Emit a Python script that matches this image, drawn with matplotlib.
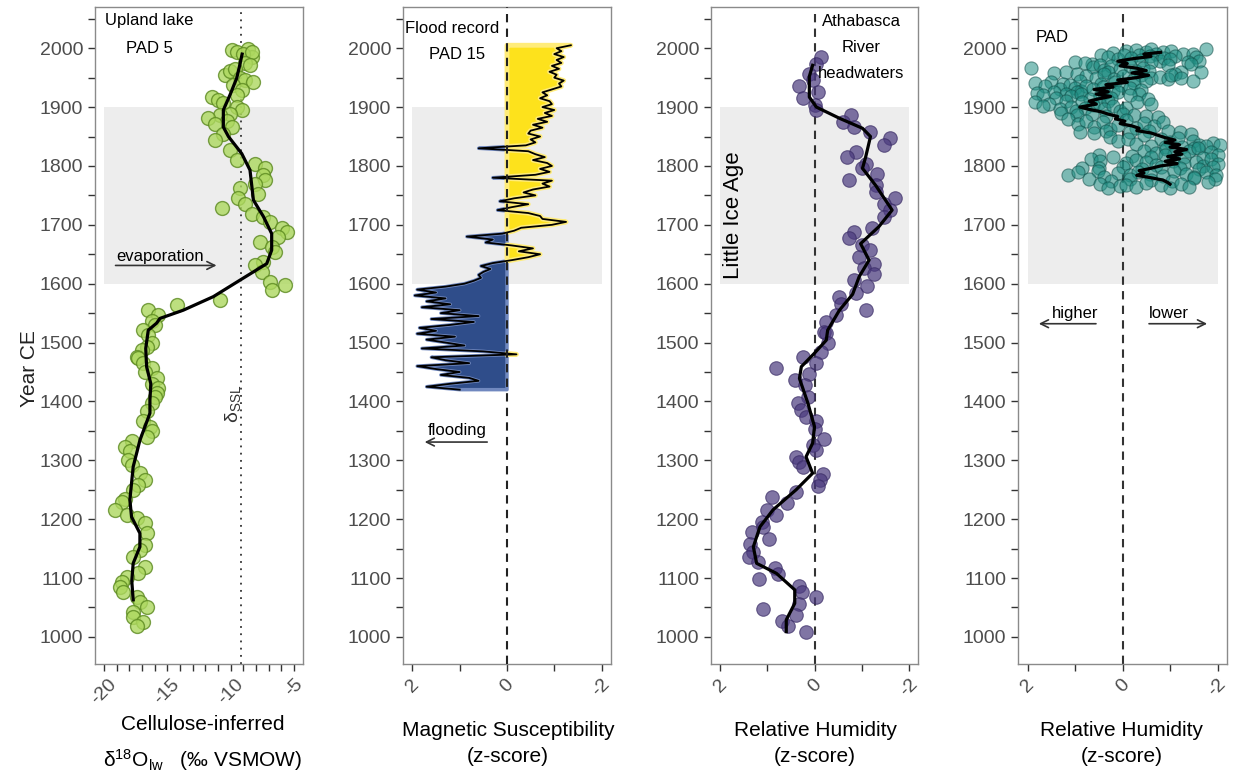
import numpy as np
import matplotlib
matplotlib.use('Agg')
import matplotlib.pyplot as plt
from matplotlib.patches import Rectangle
from matplotlib.ticker import MultipleLocator, FixedLocator

plt.rcParams['font.family'] = ['Liberation Sans', 'DejaVu Sans']
plt.rcParams['mathtext.fontset'] = 'custom'
plt.rcParams['mathtext.rm'] = 'Liberation Sans'
plt.rcParams['mathtext.it'] = 'Liberation Sans:italic'

# ---- panel 1: upland lake PAD 5, cellulose-inferred d18O lake water
p1_year = [1997, 1994, 1999, 1985, 1991, 1993, 1975, 1971, 1954, 1961, 1964, 1950,
           1946, 1943, 1937, 1929, 1920, 1917, 1912, 1907, 1900, 1895, 1889, 1886,
           1881, 1876, 1872, 1866, 1855, 1844,
           1827, 1810, 1804, 1796, 1784, 1776, 1770, 1762, 1753, 1745, 1736, 1728,
           1719, 1714, 1705, 1694, 1688, 1680, 1671, 1663, 1654, 1637, 1632, 1620,
           1603, 1598, 1589, 1572, 1564, 1555, 1547,
           1537, 1530, 1521, 1512, 1499, 1492, 1487, 1476, 1473, 1465, 1456, 1450,
           1439, 1430, 1422, 1415, 1408, 1397, 1383, 1366, 1357, 1349, 1340, 1332,
           1323, 1315, 1300, 1292, 1278, 1267, 1258, 1250, 1235, 1230, 1216, 1207,
           1202, 1193, 1176, 1156, 1148, 1136, 1119, 1108, 1102, 1094, 1085, 1077,
           1068, 1060, 1051, 1043, 1034, 1026, 1018]
p1_d18o = [-9.92, -9.53, -8.61, -8.34, -9.0, -8.3, -8.9, -8.48, -10.45, -10.05, -9.66, -9.3,
           -8.87, -8.21, -9.79, -9.13, -9.53, -11.5, -10.98, -10.58, -9.53, -9.13, -10.05, -10.84,
           -11.76, -10.3, -11.24, -9.92, -10.58, -11.24,
           -10.05, -9.53, -8.08, -7.29, -7.42, -7.29, -8.08, -9.27, -7.82, -9.4, -8.87, -10.71,
           -8.34, -7.42, -6.9, -5.98, -5.58, -6.24, -7.69, -6.77, -6.5, -7.42, -8.08, -7.55,
           -6.9, -5.71, -6.77, -10.84, -14.26, -16.5, -15.71,
           -16.2, -15.97, -16.9, -16.5, -16.24, -16.6, -17.02, -17.42, -17.29, -16.9, -16.24, -16.76,
           -15.84, -16.2, -15.71, -15.8, -15.97, -16.24, -16.63, -16.9, -16.37, -16.24, -16.63, -17.82,
           -18.34, -17.95, -18.08, -17.82, -17.16, -16.76, -17.29, -17.69, -18.34, -18.6, -19.13, -18.21,
           -17.42, -16.76, -16.63, -16.76, -17.16, -17.69, -16.76, -17.29, -18.21, -18.6, -18.74, -18.47,
           -17.42, -17.16, -16.63, -17.69, -17.69, -16.9, -17.42]
p1_line_year = [1990, 1970, 1949, 1921, 1895, 1866, 1850, 1821, 1793, 1742, 1714, 1685,
                1657, 1634, 1606, 1578, 1555, 1541, 1533, 1521, 1490, 1459, 1430, 1402,
                1380, 1334, 1289, 1233, 1204, 1176, 1153, 1125, 1095, 1063]
p1_line_val = [-9.1, -9.3, -9.53, -10.05, -10.58, -10.58, -10.18, -9.13, -8.48, -8.21, -7.42, -6.77,
               -6.77, -7.16, -9.27, -11.37, -13.74, -15.58, -15.84, -16.5, -16.7, -16.63, -16.3, -16.37,
               -16.37, -17.16, -17.69, -17.95, -17.82, -17.16, -17.16, -17.69, -17.8, -17.69]
d_ssl = -9.2

# ---- panel 2: flood record PAD 15, magnetic susceptibility z-score (5-yr steps)
ms_year = list(range(1420, 2006, 5))
ms_z = [1.0, 1.7, 1.2, 0.6, 0.8, 1.4, 1.0, 1.5, 1.9, 0.8,
        1.3, 1.6, -0.2, 0.5, 1.8, 0.9, 1.3, 1.7, 1.1, 1.9,
        1.5, 1.85, 1.2, 0.7, 1.6, 0.6, 1.4, 1.0, 1.8, 1.2,
        1.7, 1.3, 1.95, 1.5, 1.9, 1.3, 0.9, 0.7, 0.55, 0.6,
        0.5, 0.35, 0.55, 0.3, -0.1, -0.45, -0.7, -0.25, -0.55, -0.1,
        0.45, 0.3, 0.85, 0.1, -0.15, -0.3, -0.95, -1.25, -0.75, -0.7,
        -0.45, 0.2, -0.1, -0.45, 0.15, -0.15, -0.6, -0.35, -0.55, -0.9,
        -0.75, -0.95, 0.3, -0.6, -0.9, -0.7, -0.95, -0.85, -0.55, -0.8,
        -0.6, -0.45, 0.6, -0.4, -0.6, -0.5, -0.7, -0.45, -0.5, -0.75,
        -0.55, -0.85, -0.65, -0.95, -0.8, -1.0, -0.75, -0.95, -0.9, -0.7,
        -0.85, -0.75, -0.95, -1.15, -1.1, -1.2, -1.0, -1.05, -0.9, -1.1,
        -0.95, -1.15, -1.05, -1.2, -1.0, -1.15, -1.05, -1.35]

# ---- panel 3: Athabasca River headwaters relative humidity z-score
p3_year = [1985, 1974, 1957, 1946, 1935, 1926, 1916, 1903, 1895, 1886, 1875, 1866,
           1858, 1847, 1835, 1824, 1816, 1804, 1796, 1787, 1776, 1767, 1756, 1745,
           1736, 1725, 1714, 1694, 1688, 1677, 1666, 1657, 1646, 1634, 1626, 1617,
           1606, 1596, 1584, 1578, 1566, 1555, 1547, 1535, 1518, 1516, 1499, 1484,
           1476, 1466, 1456, 1446, 1436, 1428, 1408, 1397, 1385, 1374, 1366, 1354,
           1337, 1326, 1317, 1306, 1297, 1289, 1277, 1267, 1256, 1247, 1237, 1227,
           1216, 1207, 1196, 1187, 1178, 1166, 1157, 1145, 1136, 1127, 1117, 1107,
           1098, 1087, 1077, 1068, 1056, 1048, 1037, 1027, 1018, 1008]
p3_rh = [-0.14, -0.04, 0.11, 0.04, 0.32, -0.07, 0.25, 0.0, -0.04, -0.77, -0.6, -0.84,
         -1.19, -1.61, -1.47, -0.88, -0.7, -1.09, -1.02, -1.33, -0.74, -1.3, -1.3, -1.72,
         -1.47, -1.61, -1.47, -1.23, -0.84, -0.74, -1.02, -1.19, -0.95, -1.26, -1.05, -1.26,
         -0.84, -1.12, -0.88, -0.53, -0.56, -1.09, -0.46, -0.25, -0.21, -0.25, -0.28, -0.14,
         0.25, -0.04, 0.82, 0.12, 0.42, 0.21, 0.14, 0.35, 0.28, 0.18, -0.04, 0.0,
         -0.21, 0.04, -0.04, 0.39, 0.32, 0.25, -0.18, -0.11, -0.07, 0.39, 0.91, 0.58,
         1.02, 0.82, 1.12, 1.09, 1.32, 0.96, 1.37, 1.3, 1.39, 1.21, 0.84, 0.77,
         1.19, 0.32, 0.27, -0.04, 0.32, 1.09, 0.4, 0.7, 0.56, 0.18]
p3_line_year = [1971, 1952, 1917, 1900, 1881, 1864, 1850, 1816, 1796, 1767, 1725, 1697,
                1668, 1640, 1612, 1582, 1555, 1521, 1504, 1482, 1459, 1439, 1397, 1357,
                1329, 1306, 1278, 1250, 1216, 1187, 1153, 1125, 1108, 1080, 1057, 1029, 1009]
p3_line_val = [0.04, 0.11, 0.11, -0.04, -0.53, -1.02, -1.19, -1.09, -1.02, -1.3, -1.65, -1.37,
               -0.98, -1.16, -0.95, -0.81, -0.53, -0.28, -0.25, 0.0, 0.28, 0.32, 0.14, 0.0,
               0.04, 0.18, 0.04, 0.39, 0.88, 1.16, 1.3, 1.23, 0.81, 0.42, 0.42, 0.6, 0.6]

# ---- panel 4: PAD relative humidity z-score
p4_year = [1995, 1997, 1993, 1998, 1994, 1996, 1990, 1991, 1998,
           1989, 1992, 1988, 1990, 1987, 1985,
           1985, 1982, 1988, 1983, 1980, 1986, 1978, 1984, 1981, 1976,
           1977, 1974, 1976, 1971, 1979,
           1966, 1975, 1968, 1972, 1963, 1970, 1965, 1969, 1962, 1967, 1960, 1973,
           1958, 1960, 1957, 1959, 1961, 1957, 1959,
           1953, 1950, 1956, 1948, 1952, 1946, 1955, 1949, 1951, 1947, 1954, 1950, 1945,
           1941, 1943, 1940, 1944, 1939, 1942, 1941, 1944,
           1935, 1930, 1937, 1932, 1928, 1936, 1931, 1934, 1927, 1938, 1933, 1929,
           1924, 1926, 1923, 1925, 1924, 1926, 1922,
           1920, 1915, 1918, 1922, 1913, 1919, 1916, 1921, 1914,
           1908, 1906, 1910, 1909, 1907, 1911, 1909, 1906,
           1902, 1897, 1900, 1894, 1899, 1904, 1896, 1901, 1893, 1898,
           1890, 1887, 1889, 1885, 1888, 1886, 1884, 1883,
           1880, 1872, 1876, 1867, 1874, 1862, 1870, 1878, 1865, 1873, 1868, 1875,
           1858, 1856, 1860, 1857, 1859, 1860, 1857, 1855,
           1850, 1842, 1846, 1838, 1852, 1845, 1840, 1848, 1843, 1836, 1839,
           1834, 1832, 1833, 1831, 1834, 1835,
           1826, 1822, 1828, 1820, 1825, 1830, 1823,
           1818, 1816, 1817, 1815, 1818, 1816, 1814, 1819,
           1812, 1808, 1805, 1810, 1806, 1802, 1809, 1804, 1807, 1800, 1811, 1803,
           1797, 1796, 1798, 1795, 1799, 1797, 1794, 1798,
           1785, 1789, 1792, 1782, 1788, 1784, 1790, 1786, 1783, 1791, 1787, 1781, 1789, 1785,
           1777, 1775, 1778, 1776, 1774, 1779, 1777,
           1770, 1762, 1766, 1768, 1764, 1771, 1767, 1763, 1769, 1765, 1772]
p4_rh = [-0.07, -0.28, -0.5, -0.6, -0.85, -1.02, -1.27, -1.48, -1.76,
         0.45, 0.2, -0.35, -0.7, -1.1, -1.55,
         0.31, 0.1, -0.04, -0.18, -0.39, -0.57, -0.78, -0.88, -0.99, -1.37,
         1.0, 0.65, -0.6, -0.95, -1.6,
         1.92, 0.8, 0.62, 0.48, 0.38, 0.24, 0.06, -0.15, -0.29, -0.43, -1.23, -1.44,
         1.45, 1.2, 0.95, 0.3, -0.55, -1.1, -1.65,
         0.76, 0.55, 0.38, 0.17, -0.01, -0.22, -0.39, -0.6, -0.78, -0.95, -1.02, -1.23, -1.48,
         1.85, 1.5, 1.25, 0.9, 0.45, 0.15, -0.25, -0.5,
         1.64, 1.32, 1.11, 1.0, 0.87, 0.76, 0.62, 0.41, 0.2, 0.03, -0.15, -0.39,
         1.8, 1.45, 1.2, 0.95, 0.4, 0.1, -0.35,
         1.67, 1.39, 1.08, 0.87, 0.69, 0.48, 0.24, -0.15, -0.53,
         1.85, 1.55, 1.2, 0.85, 0.5, 0.3, -0.3, -0.6,
         1.67, 1.32, 1.08, 0.97, 0.8, 0.62, 0.38, 0.2, 0.06, -0.08,
         1.3, 0.95, 0.65, 0.35, 0.0, -0.25, -0.5, -0.75,
         1.15, 0.94, 0.76, 0.59, 0.41, 0.27, 0.1, -0.08, -0.29, -0.46, -0.67, -0.85,
         0.9, 0.6, 0.35, -0.15, -0.55, -0.95, -1.2, -1.45,
         0.27, 0.1, -0.11, -0.29, -0.46, -0.81, -0.99, -1.16, -1.48, -1.62, -1.9,
         -0.6, -0.9, -1.25, -1.5, -1.75, -2.05,
         -0.46, -0.71, -0.92, -1.09, -1.41, -1.58, -1.86,
         0.5, 0.2, -0.2, -0.6, -0.9, -1.3, -1.7, -2.0,
         0.66, 0.48, -0.08, -0.29, -0.5, -0.71, -1.06, -1.3, -1.55, -1.69, -1.86, -2.0,
         0.85, 0.5, 0.0, -0.4, -0.8, -1.2, -1.6, -1.9,
         1.15, 0.94, 0.52, 0.38, 0.1, -0.15, -0.32, -0.57, -0.85, -1.09, -1.34, -1.51, -1.76, -1.97,
         0.7, 0.25, -0.15, -0.6, -1.05, -1.5, -1.95,
         0.48, 0.31, 0.06, -0.08, -0.29, -0.5, -0.81, -0.99, -1.23, -1.41, -1.79]
p4_line_year = [1993, 1990, 1986, 1982, 1978, 1974, 1970, 1966, 1962, 1958, 1954, 1950,
                1946, 1942, 1938, 1934, 1930, 1926, 1922, 1918, 1914, 1910, 1905, 1900,
                1896, 1892, 1888, 1884, 1880, 1876, 1872, 1868, 1864, 1860, 1856, 1852,
                1848, 1844, 1840, 1836, 1832, 1828, 1824, 1820, 1816, 1812, 1808, 1804,
                1800, 1796, 1792, 1788, 1784, 1780, 1776, 1772, 1769]
p4_line_val = [-0.8, -0.45, -0.6, -0.2, 0.1, -0.1, 0.05, -0.3, -0.5, -0.2, -0.55, -0.3,
               0.1, -0.1, 0.35, 0.2, 0.6, 0.3, 0.55, 0.25, 0.5, 0.7, 0.55, 0.9,
               0.7, 0.45, 0.3, 0.1, 0.15, -0.05, 0.05, -0.2, -0.35, -0.3, -0.6, -0.75,
               -0.9, -1.1, -0.9, -1.2, -1.0, -1.35, -1.1, -1.25, -0.95, -1.2, -0.9, -1.15,
               -0.8, -0.6, -0.35, -0.45, -0.3, -0.6, -0.85, -0.95, -1.0]

W, H = 1233, 774
fig = plt.figure(figsize=(W / 100, H / 100), dpi=100)


def px_axes(left, top, right, bottom):
    return fig.add_axes([left / W, 1 - bottom / H, (right - left) / W, (bottom - top) / H])


tick_col = '#4D4D4D'
axs = [px_axes(95, 7, 303, 664), px_axes(403, 7, 611, 664),
       px_axes(711, 7, 918, 664), px_axes(1018, 7, 1227, 664)]

for ax in axs:
    ax.set_ylim(954, 2070)
    ax.yaxis.set_major_locator(MultipleLocator(100))
    ax.yaxis.set_minor_locator(MultipleLocator(50))
    ax.tick_params(which='both', length=5, width=1, color='#333333',
                   labelcolor=tick_col, labelsize=14)
    for s in ax.spines.values():
        s.set_color('#8A8A8A')
        s.set_linewidth(1)

# panel 1
ax = axs[0]
ax.set_xlim(-20.7, -4.3)
ax.add_patch(Rectangle((-20, 1600), 15, 300, color='#EDEDED', lw=0, zorder=0))
ax.axvline(d_ssl, color='#333333', ls=(0, (1, 3)), lw=1.3, zorder=1)
ax.scatter(p1_d18o, p1_year, s=100, facecolor='#ADD85F', edgecolor='#5C8A20',
           alpha=0.8, lw=1, zorder=2)
ax.plot(p1_line_val, p1_line_year, color='black', lw=2.3, zorder=3)
ax.xaxis.set_major_locator(FixedLocator([-20, -15, -10, -5]))
ax.xaxis.set_minor_locator(MultipleLocator(1))
ax.set_xticklabels(['-20', '-15', '-10', '-5'], rotation=45, ha='center', va='top')
ax.text(-16.4, 2047, 'Upland lake', ha='center', va='center', fontsize=12)
ax.text(-16.4, 2000, 'PAD 5', ha='center', va='center', fontsize=12)
ax.text(-15.6, 1646, 'evaporation', ha='center', va='center', fontsize=12)
ax.annotate('', xy=(-10.9, 1631), xytext=(-19.3, 1631),
            arrowprops=dict(arrowstyle='->', lw=1.2, color='#333333', mutation_scale=14))
ax.text(-9.8, 1396, r'$\mathrm{\delta}_{\mathrm{SSL}}$', rotation=90, ha='center', va='center',
        fontsize=14, color='#333333')
ax.set_ylabel('Year CE', fontsize=15, color='#222222')
ax.yaxis.set_label_coords(-0.27, 0.45)

# panel 2
ax = axs[1]
ax.set_xlim(2.2, -2.2)
ax.add_patch(Rectangle((-2, 1600), 4, 300, color='#EDEDED', lw=0, zorder=0))
ms_y = np.array(ms_year)
ms_v = np.array(ms_z)
ax.fill_betweenx(ms_y, 0, ms_v, where=ms_v >= 0, interpolate=True,
                 facecolor='#2F4D8A', edgecolor='#7088BF', lw=2.5, zorder=1)
ax.fill_betweenx(ms_y, 0, ms_v, where=ms_v <= 0, interpolate=True,
                 facecolor='#FDE21C', edgecolor='#FFEC7A', lw=3.5, zorder=1)
ax.plot(ms_v, ms_y, color='black', lw=1.3, zorder=2)
ax.axvline(0, color='#222222', ls=(0, (4, 3)), lw=1.5, zorder=3)
ax.text(1.16, 2034, 'Flood record', ha='center', va='center', fontsize=12)
ax.text(1.05, 1989, 'PAD 15', ha='center', va='center', fontsize=12)
ax.text(1.05, 1350, 'flooding', ha='center', va='center', fontsize=12)
ax.annotate('', xy=(1.8, 1331), xytext=(0.36, 1331),
            arrowprops=dict(arrowstyle='->', lw=1.2, color='#333333', mutation_scale=14))

# panel 3
ax = axs[2]
ax.set_xlim(2.2, -2.2)
ax.add_patch(Rectangle((-2, 1600), 4, 300, color='#EDEDED', lw=0, zorder=0))
ax.axvline(0, color='#333333', ls=(0, (4, 3)), lw=1.5, zorder=1)
ax.scatter(p3_rh, p3_year, s=95, facecolor='#4A3A7E', edgecolor='#3A2C66',
           alpha=0.7, lw=0.8, zorder=2)
ax.plot(p3_line_val, p3_line_year, color='black', lw=2.3, zorder=3)
ax.text(-1.0, 2046, 'Athabasca', ha='center', va='center', fontsize=12)
ax.text(-1.0, 2002, 'River', ha='center', va='center', fontsize=12)
ax.text(-1.0, 1957, 'headwaters', ha='center', va='center', fontsize=12)
ax.text(1.72, 1716, 'Little Ice Age', rotation=90, ha='center', va='center', fontsize=16)

# panel 4
ax = axs[3]
ax.set_xlim(2.2, -2.2)
ax.add_patch(Rectangle((-2, 1600), 4, 300, color='#EDEDED', lw=0, zorder=0))
ax.axvline(0, color='#333333', ls=(0, (4, 3)), lw=1.5, zorder=1)
ax.scatter(p4_rh, p4_year, s=90, facecolor='#1F8F84', edgecolor='#0F4D47',
           alpha=0.55, lw=0.8, zorder=2)
ax.plot(p4_line_val, p4_line_year, color='black', lw=2.3, zorder=3)
ax.text(1.82, 2018, 'PAD', ha='left', va='center', fontsize=12)
ax.text(1.0, 1550, 'higher', ha='center', va='center', fontsize=12)
ax.annotate('', xy=(1.82, 1532), xytext=(0.5, 1532),
            arrowprops=dict(arrowstyle='->', lw=1.2, color='#333333', mutation_scale=14))
ax.text(-0.97, 1550, 'lower', ha='center', va='center', fontsize=12)
ax.annotate('', xy=(-1.84, 1532), xytext=(-0.5, 1532),
            arrowprops=dict(arrowstyle='->', lw=1.2, color='#333333', mutation_scale=14))

for ax in axs[1:]:
    ax.xaxis.set_major_locator(FixedLocator([2, 0, -2]))
    ax.xaxis.set_minor_locator(FixedLocator([1, -1]))
    ax.set_xticklabels(['2', '0', '-2'], rotation=45, ha='center', va='top')

# axis titles under each panel
fig.text(203 / W, 1 - 725 / H, 'Cellulose-inferred', ha='center', va='center', fontsize=15)
fig.text(203 / W, 1 - 760 / H, r'δ$^{18}$O$_{\mathrm{lw}}$   (‰ VSMOW)',
         ha='center', va='center', fontsize=15)
for cx, t in [(508, 'Magnetic Susceptibility'), (815, 'Relative Humidity'),
              (1122, 'Relative Humidity')]:
    fig.text(cx / W, 1 - 730 / H, t, ha='center', va='center', fontsize=15)
    fig.text(cx / W, 1 - 757 / H, '(z-score)', ha='center', va='center', fontsize=15)

fig.savefig('out.png', dpi=100)
